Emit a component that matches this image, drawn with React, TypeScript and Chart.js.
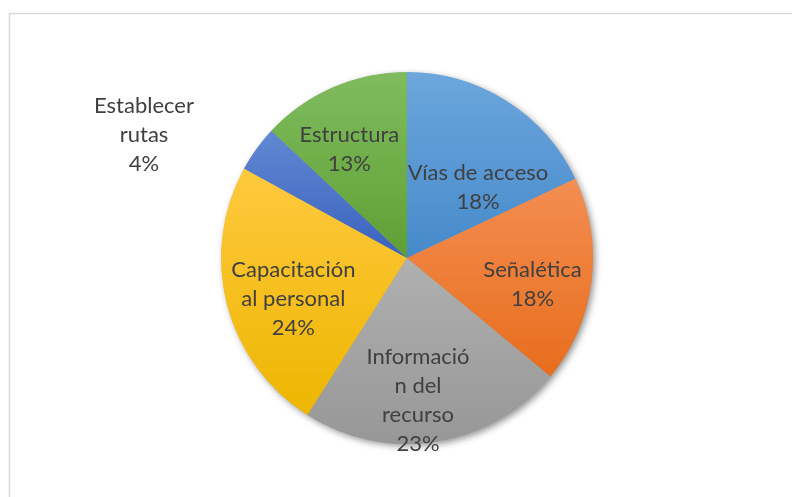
import React, { useEffect, useRef } from 'react';
import { Chart, registerables } from 'chart.js';

Chart.register(...registerables);

const categories = ['Vías de acceso', 'Señalética', 'Información del recurso', 'Capacitación al personal', 'Establecer rutas', 'Estructura'];
const values = [18, 18, 23, 24, 4, 13];
const labelLines = [
  ['Vías de acceso'],
  ['Señalética'],
  ['Informació', 'n del', 'recurso'],
  ['Capacitación', 'al personal'],
  ['Establecer', 'rutas'],
  ['Estructura'],
];
const topColors = ['#6CA6DD', '#F38E52', '#B0B0B0', '#FFC93F', '#6188D2', '#80BC5F'];
const bottomColors = ['#468ACB', '#E86D1C', '#979797', '#EDB600', '#3A62BE', '#5F9F33'];
// label placement: angular offset (deg) from slice middle and distance as fraction of radius
const labelAngleOffset = [12.6, 4.8, 4.6, -5.6, -11, -4.6];
const labelRadiusFrac = [0.54, 0.69, 0.77, 0.65, 1.56, 0.66];

const FONT = '22px Lato, "Open Sans", sans-serif';
const TEXT_COLOR = '#404040';
const LINE_H = 29;

function sliceGradient(ctx: any) {
  const chart = ctx.chart;
  const i = ctx.dataIndex;
  const ca = chart.chartArea;
  if (!ca || i === undefined) return topColors[i ?? 0];
  const cx = (ca.left + ca.right) / 2;
  const cy = (ca.top + ca.bottom) / 2;
  const R = Math.min(ca.right - ca.left, ca.bottom - ca.top) / 2;
  const total = values.reduce((a, b) => a + b, 0);
  let cum = 0;
  for (let k = 0; k < i; k++) cum += values[k];
  const s = -Math.PI / 2 + (cum / total) * 2 * Math.PI;
  const e = s + (values[i] / total) * 2 * Math.PI;
  const ys = [cy, cy + R * Math.sin(s), cy + R * Math.sin(e)];
  for (let k = -2; k <= 3; k++) {
    const down = Math.PI / 2 + 2 * Math.PI * k;
    const up = -Math.PI / 2 + 2 * Math.PI * k;
    if (down >= s && down <= e) ys.push(cy + R);
    if (up >= s && up <= e) ys.push(cy - R);
  }
  const y0 = Math.min(...ys);
  const y1 = Math.max(...ys);
  const g = chart.ctx.createLinearGradient(0, y0, 0, y1);
  g.addColorStop(0, topColors[i]);
  g.addColorStop(1, bottomColors[i]);
  return g;
}

const framePlugin = {
  id: 'frame',
  beforeDraw(chart: any) {
    const c = chart.ctx;
    c.save();
    c.fillStyle = '#ffffff';
    c.fillRect(0, 0, chart.width, chart.height);
    c.strokeStyle = '#d9d9d9';
    c.lineWidth = 1.5;
    c.strokeRect(9.5, 13.5, chart.width + 20, chart.height + 20);
    c.restore();
  },
};

const shadowPlugin = {
  id: 'pieShadow',
  beforeDatasetsDraw(chart: any) {
    const meta = chart.getDatasetMeta(0);
    const a = meta.data[0];
    if (!a) return;
    const c = chart.ctx;
    c.save();
    c.shadowColor = 'rgba(0,0,0,0.45)';
    c.shadowBlur = 7;
    c.shadowOffsetX = 2.5;
    c.shadowOffsetY = 2.5;
    c.fillStyle = '#999';
    c.beginPath();
    c.arc(a.x, a.y, a.outerRadius - 0.5, 0, Math.PI * 2);
    c.fill();
    c.restore();
  },
};

const labelPlugin = {
  id: 'sliceLabels',
  afterDatasetsDraw(chart: any) {
    const meta = chart.getDatasetMeta(0);
    const c = chart.ctx;
    const total = values.reduce((a, b) => a + b, 0);
    c.save();
    c.font = FONT;
    c.fillStyle = TEXT_COLOR;
    c.textAlign = 'center';
    c.textBaseline = 'middle';
    meta.data.forEach((arc: any, i: number) => {
      const mid = (arc.startAngle + arc.endAngle) / 2 + (labelAngleOffset[i] * Math.PI) / 180;
      const r = arc.outerRadius * labelRadiusFrac[i];
      const x = arc.x + Math.cos(mid) * r;
      const y = arc.y + Math.sin(mid) * r;
      const lines = [...labelLines[i], Math.round((values[i] / total) * 100) + '%'];
      const y0 = y - ((lines.length - 1) * LINE_H) / 2;
      lines.forEach((ln, k) => c.fillText(ln, x, y0 + k * LINE_H));
    });
    c.restore();
  },
};

export default function App() {
  const ref = useRef<HTMLCanvasElement | null>(null);
  useEffect(() => {
    if (!ref.current) return;
    const chart = new Chart(ref.current, {
      type: 'pie',
      data: {
        labels: categories,
        datasets: [
          {
            data: values,
            backgroundColor: sliceGradient as any,
            borderWidth: 0,
          },
        ],
      },
      options: {
        responsive: false,
        animation: false,
        layout: { padding: { left: 221, right: 199, top: 72, bottom: 53 } },
        plugins: { legend: { display: false }, tooltip: { enabled: false } },
      },
      plugins: [framePlugin, shadowPlugin, labelPlugin],
    });
    return () => chart.destroy();
  }, []);
  return (
    <div style={{ position: 'absolute', left: 0, top: 0, width: 792, height: 497 }}>
      <canvas ref={ref} width={792} height={497} style={{ display: 'block' }} />
    </div>
  );
}
